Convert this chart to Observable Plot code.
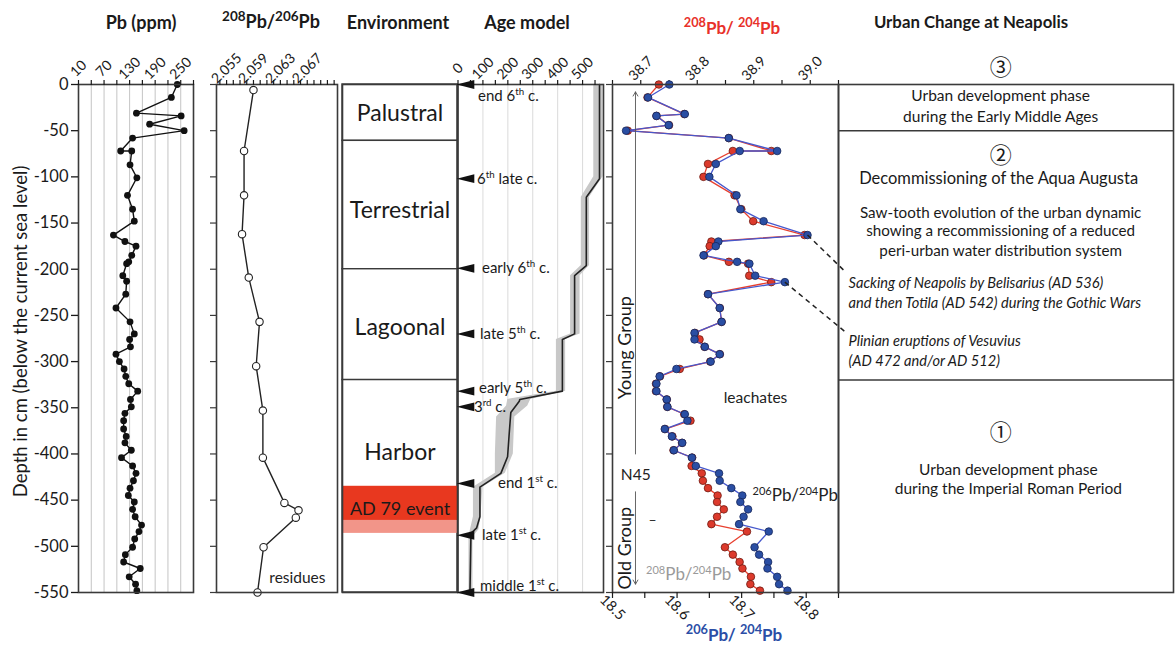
<!DOCTYPE html>
<html><head><meta charset="utf-8">
<script src="https://cdn.jsdelivr.net/npm/d3@7"></script>
<script src="https://cdn.jsdelivr.net/npm/@observablehq/plot@0.6"></script>
<style>
body{margin:0;background:#fff;font-family:Lato,"Open Sans",sans-serif;color:#1a1a1a;}
#wrap{position:relative;width:1175px;height:650px;overflow:hidden;background:#fff;}
.title{position:absolute;font-weight:bold;font-size:16px;line-height:20px;white-space:nowrap;transform:translateX(-50%);}
.title sup{font-size:75%;}
</style></head><body><div id="wrap"></div>
<script>
// ---------- DATA ----------
const depthTicks = [0,-50,-100,-150,-200,-250,-300,-350,-400,-450,-500,-550];
const depthTitle = "Depth in cm (below the current sea level)";

// Pb (ppm)
const pbDepth = [0,-14,-31,-34,-43,-50,-58,-72,-72,-87,-101,-120,-135,-148,-163,-170,-175,-185,-192,-194,-207,-213,-227,-242,-257,-270,-276,-284,-292,-300,-308,-316,-324,-332,-341,-349,-356,-364,-373,-381,-388,-396,-404,-413,-421,-429,-437,-445,-452,-460,-468,-477,-484,-492,-501,-509,-517,-524,-533,-541,-548];
const pbPpm = [242,228,146,251,177,258,137,109,135,131,147,125,137,141,92,119,145,135,128,123,114,123,121,98,131,141,130,132,98,106,117,121,128,149,132,134,119,116,116,122,119,134,111,137,145,139,131,127,141,137,143,158,152,142,137,120,116,155,129,144,147];
const pbTicks = [10,40,70,100,130,160,190,220,250,280];
const pbLabels = [10,70,130,190,250];
const pbGrid = [40,70,100,130,160,190,220,250];

// 208Pb/206Pb residues
const r86Depth = [-6,-72,-120,-162,-209,-257,-305,-353,-404,-453,-461,-469,-501,-550];
const r86Value = [2.0590,2.0576,2.0576,2.0573,2.0583,2.0599,2.0594,2.0604,2.0604,2.0636,2.0657,2.0653,2.0605,2.0596];
const r86Ticks = [2054,2055,2056,2057,2058,2059,2060,2061,2062,2063,2064,2065,2066,2067,2068,2069,2070,2071];
const r86Labels = [2055,2059,2063,2067];

// Environment
const envNames = ["Palustral","Terrestrial","Lagoonal","Harbor"];
const envTop = [0,-61,-200,-320];
const envBottom = [-61,-200,-320,-550];
const envLabelDepth = [-31,-137,-263,-399];
const adEventName = "AD 79 event";
const adEventTop = -435, adEventMid = -472, adEventBottom = -486, adEventLabelDepth = -460;

// Age model
const ageDepth = [0,-102,-122,-196,-207,-270,-276,-332,-341,-343,-355,-380,-403,-421,-436,-468,-480,-486,-550];
const ageYear  = [568,568,515,515,468,468,419,419,248,246,212,205,199,172,88,88,75,52,48];
const bandDepth = [0,-100,-122,-196,-207,-270,-276,-332,-341,-348,-360,-400,-421,-436,-468,-482,-490,-550];
const bandLo    = [545,545,495,495,452,452,395,395,200,195,155,150,150,62,62,50,44,44];
const bandHi    = [582,582,528,528,490,490,432,432,292,280,228,222,190,100,92,84,60,60];
const ageTicks = [0,50,100,150,200,250,300,350,400,450,500,550];
const ageLabels = [0,100,200,300,400,500];
const ageGrid = [100,200,300,400,500];
const markerDepth = [0,-102,-199,-270,-332,-349,-432,-488,-550];
const markerLabel = ["end 6^{th} c.","6^{th} late c.","early 6^{th} c.","late 5^{th} c.","early 5^{th} c.","3^{rd} c.","end 1^{st} c.","late 1^{st} c.","middle 1^{st} c."];
const markerLabelDx = [20,19,24,22,21,16,40,24,22];
const markerLabelDy = [12,0,0,0,-3,0,0,0,-6];

// Isotopes (leachates)
const isoDepth = [0,-14,-32,-34,-44,-50,-58,-72,-72,-86,-100,-120,-135,-148,-163,-170,-175,-185,-192,-194,-207,-214,-227,-242,-257,-269,-276,-284,-292,-300,-308,-316,-324,-332,-341,-349,-357,-364,-373,-381,-388,-396,-404,-413,-421,-429,-437,-445,-452,-460,-468,-476,-484,-501,-509,-517,-524,-533,-541,-548];
const iso208_204 = [38.732,38.712,38.777,38.728,38.750,38.677,38.856,38.931,38.863,38.819,38.811,38.866,38.878,38.899,38.990,38.825,38.822,38.812,38.856,38.890,38.892,38.931,38.819,38.840,38.843,38.796,38.804,38.813,38.840,38.823,38.769,38.734,38.727,38.727,38.746,38.747,38.777,38.788,38.743,38.756,38.773,38.758,38.791,38.790,38.808,38.810,38.819,38.836,38.835,38.847,38.835,38.825,38.888,38.849,38.863,38.875,38.880,38.895,38.894,38.911];
const iso206_204 = [18.588,18.555,18.612,18.568,18.587,18.521,18.680,18.755,18.697,18.660,18.650,18.692,18.698,18.734,18.802,18.664,18.660,18.641,18.693,18.712,18.721,18.767,18.648,18.666,18.669,18.627,18.627,18.643,18.666,18.652,18.599,18.573,18.568,18.568,18.584,18.585,18.612,18.616,18.581,18.592,18.608,18.595,18.623,18.629,18.665,18.666,18.684,18.701,18.698,18.710,18.703,18.696,18.742,18.720,18.727,18.741,18.740,18.755,18.758,18.771];
const top208Ticks = [38.65,38.70,38.75,38.80,38.85,38.90,38.95,39.00,39.05];
const bot206Ticks = [18.50,18.55,18.60,18.65,18.70,18.75,18.80,18.85];

// annotations (isotope panel, blue-axis coords)
const groupArrows = [{x:18.5356,y1:-400,y2:-8},{x:18.5356,y1:-441,y2:-541}];
const groupNames = [{t:"Young Group",x:18.519,d:-285},{t:"Old Group",x:18.519,d:-502}];
const isoNotes = [
  {t:"N45",x:18.536,d:-423,c:"#222",s:15.5},
  {t:"–",x:18.562,d:-472,c:"#222",s:14},
  {t:"leachates",x:18.7215,d:-339,c:"#222",s:15.5},
  {t:"^{206}Pb/^{204}Pb",x:18.783,d:-445,c:"#222",s:17},
  {t:"^{208}Pb/^{204}Pb",x:18.618,d:-531,c:"#9a9a9a",s:17}
];
const connectors = [{x1:18.802,d1:-163,x2:18.861,d2:-203},{x1:18.767,d1:-214,x2:18.859,d2:-267}];

// Urban change panel
const phaseRules = [-50,-320];
const circledNums = [{t:"③",d:18},{t:"②",d:-77},{t:"①",d:-377}];
const plainNotes = [
  {t:"Urban development phase",d:-12,p:0.484,s:15.5},
  {t:"during the Early Middle Ages",d:-35,p:0.484,s:15.5},
  {t:"Decommissioning of the Aqua Augusta",d:-102,p:0.478,s:16.5},
  {t:"Saw-tooth evolution of the urban dynamic",d:-139,p:0.484,s:15.2},
  {t:"showing a recommissioning of a reduced",d:-159,p:0.484,s:15.2},
  {t:"peri-urban water distribution system",d:-180,p:0.484,s:15.2},
  {t:"Urban development phase",d:-417,p:0.507,s:15.5},
  {t:"during the Imperial Roman Period",d:-438,p:0.507,s:15.5}
];
const italicNotes = [
  {t:"Sacking of Neapolis by Belisarius (AD 536)",d:-215},
  {t:"and then Totila (AD 542) during the Gothic Wars",d:-237},
  {t:"Plinian eruptions of Vesuvius",d:-278},
  {t:"(AD 472 and/or AD 512)",d:-300}
];

// ---------- RENDER ----------
const W = 1175, H = 650, TOP = 84, BOT = 592;
const FONT = "Lato, 'Open Sans', sans-serif";
const wrap = document.getElementById("wrap");

function supify(root){
  root.querySelectorAll("text").forEach(t=>{
    const s = t.textContent;
    if (!s.includes("^{") || t.querySelector("tspan")) return;
    t.textContent = "";
    s.split(/(\^\{[^}]*\})/).forEach(p=>{
      if (!p) return;
      const ts = document.createElementNS("http://www.w3.org/2000/svg","tspan");
      if (p.startsWith("^{")) { ts.textContent = p.slice(2,-1); ts.setAttribute("baseline-shift","super"); ts.setAttribute("font-size","65%"); }
      else ts.textContent = p;
      t.appendChild(ts);
    });
  });
}
function mk(left, right, opts){
  const svg = Plot.plot({
    width: W, height: H,
    marginLeft: left, marginRight: W - right, marginTop: TOP, marginBottom: H - BOT,
    style: {background:"transparent", fontFamily: FONT, fontSize:"13px", color:"#1a1a1a", position:"absolute", left:"0px", top:"0px", overflow:"visible"},
    y: {domain:[-550,0], axis:null},
    ...opts
  });
  supify(svg);
  wrap.appendChild(svg);
  return svg;
}
const frame = () => Plot.frame({stroke:"#3a3a3a", strokeWidth:1.6});
const leftTicks = () => Plot.axisY({ticks: depthTicks, tickSize:6, tickFormat:()=>"", label:null, stroke:"#3a3a3a", strokeWidth:1.2});
const topAxis = (ticks, fmt) => Plot.axisX({anchor:"top", ticks, tickSize:5, tickPadding:11, label:null, tickRotate:-45,
  textAnchor:"middle", lineAnchor:"middle", fontSize:14, tickFormat:fmt, strokeWidth:1.2});

// Panel 1: Pb
const pbData = pbDepth.map((d,i)=>({depth:d, v:pbPpm[i]}));
mk(78, 193, {
  x: {domain:[10,280], axis:null},
  marks: [
    Plot.gridX(pbGrid, {stroke:"#bdbdbd", strokeOpacity:1, strokeWidth:0.9}),
    Plot.line(pbData, {x:"v", y:"depth", stroke:"#111", strokeWidth:1.4}),
    Plot.dot(pbData, {x:"v", y:"depth", r:3.4, fill:"#111"}),
    frame(),
    Plot.axisY({ticks: depthTicks, tickSize:7, tickPadding:3, fontSize:16.5, label:null, tickFormat:d=>String(d), strokeWidth:1.3}),
    topAxis(pbTicks, d=>pbLabels.includes(d)?String(d):""),
    Plot.text([depthTitle], {frameAnchor:"left", textAnchor:"middle", dx:-57, dy:-7, rotate:-90, fontSize:18.5, fill:"#1a1a1a"})
  ]
});

// Panel 2: 208Pb/206Pb
const r86Data = r86Depth.map((d,i)=>({depth:d, v:r86Value[i]}));
mk(216, 337, {
  x: {domain:[2.0535,2.0715], axis:null},
  marks: [
    Plot.line(r86Data, {x:"v", y:"depth", stroke:"#222", strokeWidth:1.4}),
    Plot.dot(r86Data, {x:"v", y:"depth", r:3.7, fill:"white", stroke:"#222", strokeWidth:1.1}),
    frame(),
    leftTicks(),
    topAxis(r86Ticks.map(d=>d/1000), d=>r86Labels.includes(Math.round(d*1000))?d.toFixed(3):""),
    Plot.text(["residues"], {frameAnchor:"bottom-right", dx:-12, dy:-10, fontSize:15.5, fill:"#222"})
  ]
});

// Panel 3: Environment
const envData = envNames.map((n,i)=>({name:n, top:envTop[i], bottom:envBottom[i], ld:envLabelDepth[i]}));
const adData = [{y1:adEventTop, y2:adEventMid, c:"#e8381f"},{y1:adEventMid, y2:adEventBottom, c:"#f29589"}];
mk(342, 457, {
  x: {domain:[0,1], axis:null},
  marks: [
    Plot.rect(envData, {x1:0, x2:1, y1:"bottom", y2:"top", fill:"white", stroke:"#3a3a3a", strokeWidth:1.4}),
    Plot.rect(adData, {x1:0, x2:1, y1:"y2", y2:"y1", fill:"c"}),
    Plot.text(envData, {x:0.5, y:"ld", text:"name", fontSize:23, fill:"#1a1a1a"}),
    Plot.text([adEventName], {x:0.5, y:adEventLabelDepth, fontSize:18, fill:"#1a1a1a"}),
    frame()
  ]
});

// Panel 4: Age model
const ageData = ageDepth.map((d,i)=>({depth:d, age:ageYear[i]}));
const bandData = bandDepth.map((d,i)=>({depth:d, lo:bandLo[i], hi:bandHi[i]}));
const markers = markerDepth.map((d,i)=>({depth:d, label:markerLabel[i], dx:markerLabelDx[i], dy:markerLabelDy[i]}));
const leftTri = {draw(ctx, size){ const r = Math.sqrt(size/Math.PI); ctx.moveTo(-r*1.1,0); ctx.lineTo(r*1.1,-r*0.55); ctx.lineTo(r*1.1,r*0.55); ctx.closePath(); }};
mk(457.5, 603, {
  x: {domain:[0,584], axis:null},
  marks: [
    Plot.gridX(ageGrid, {stroke:"#d6d6d6", strokeOpacity:1, strokeWidth:0.9}),
    Plot.areaX(bandData, {y:"depth", x1:"lo", x2:"hi", fill:"#c8c8c8"}),
    Plot.line(ageData, {x:"age", y:"depth", stroke:"#222", strokeWidth:1.6}),
    frame(),
    topAxis(ageTicks, d=>ageLabels.includes(d)?String(d):""),
    Plot.dot(markers, {x:0, y:"depth", dx:7.5, r:8, symbol:leftTri, fill:"#111"}),
    ...markers.map(m=>Plot.text([m.label], {x:0, y:m.depth, dx:m.dx, dy:m.dy, textAnchor:"start", fontSize:15, fill:"#1a1a1a"}))
  ]
});

// Panel 5a: 208Pb/204Pb (red, top axis)
const iso = isoDepth.map((d,i)=>({depth:d, r:iso208_204[i], b:iso206_204[i]}));
mk(612, 838, {
  x: {domain:[38.65,39.05], axis:null},
  marks: [
    Plot.line(iso, {x:"r", y:"depth", stroke:"#e8402f", strokeWidth:1.3}),
    Plot.dot(iso, {x:"r", y:"depth", r:3.8, fill:"#dc3a2c", stroke:"#6e1a12", strokeWidth:0.8}),
    topAxis(top208Ticks, d=>Math.round(d*100)%10===0?d.toFixed(1):"")
  ]
});
// Panel 5b: 206Pb/204Pb (blue, bottom axis)
mk(612, 838, {
  x: {domain:[18.5,18.85], axis:null},
  marks: [
    Plot.line(iso, {x:"b", y:"depth", stroke:"#4658cc", strokeWidth:1.3}),
    Plot.dot(iso, {x:"b", y:"depth", r:3.8, fill:"#2a4ea3", stroke:"#16275a", strokeWidth:0.8}),
    frame(),
    leftTicks(),
    Plot.axisX({anchor:"bottom", ticks: bot206Ticks, tickSize:6, tickPadding:9, label:null, tickRotate:45,
      textAnchor:"middle", lineAnchor:"middle", fontSize:14.5,
      tickFormat:d=>Math.round(d*100)%10===0?d.toFixed(1):"", strokeWidth:1.2}),
    Plot.arrow(groupArrows, {x1:"x", x2:"x", y1:"y1", y2:"y2", stroke:"#555", strokeWidth:0.9, headLength:8}),
    Plot.text(groupNames, {x:"x", y:"d", text:"t", rotate:-90, fontSize:18, fill:"#1a1a1a"}),
    ...isoNotes.map(n=>Plot.text([n.t], {x:n.x, y:n.d, fontSize:n.s, fill:n.c})),
    Plot.link(connectors, {x1:"x1", y1:"d1", x2:"x2", y2:"d2", stroke:"#222", strokeWidth:1.5, strokeDasharray:"5,4"})
  ]
});

// Panel 6: Urban change
mk(838, 1173, {
  x: {domain:[0,1], axis:null},
  marks: [
    Plot.ruleY(phaseRules, {stroke:"#3a3a3a", strokeWidth:1.6}),
    frame(),
    Plot.text(circledNums, {x:0.484, y:"d", text:"t", fontSize:22, fontFamily:"'Noto Sans CJK JP', 'DejaVu Sans', sans-serif", fill:"#1a1a1a"}),
    Plot.text(plainNotes, {x:"p", y:"d", text:"t", fontSize:"s", fill:"#1a1a1a"}),
    Plot.text(italicNotes, {x:0.03, y:"d", text:"t", textAnchor:"start", fontStyle:"italic", fontSize:14.6, fill:"#1a1a1a"})
  ]
});

// Titles (HTML)
const titles = [
  {h:"Pb (ppm)", x:141, y:12, c:"#1a1a1a", s:18},
  {h:"<sup>208</sup>Pb/<sup>206</sup>Pb", x:271, y:6, c:"#1a1a1a", s:18},
  {h:"Environment", x:398, y:12, c:"#1a1a1a", s:18},
  {h:"Age model", x:527, y:12, c:"#1a1a1a", s:18},
  {h:"<sup>208</sup>Pb/ <sup>204</sup>Pb", x:732, y:12, c:"#e8312a", s:17},
  {h:"Urban Change at Neapolis", x:971, y:12, c:"#1a1a1a", s:16.8},
  {h:"<sup>206</sup>Pb/ <sup>204</sup>Pb", x:734, y:619, c:"#2b4ea6", s:17}
];
titles.forEach(t=>{
  const d = document.createElement("div");
  d.className = "title"; d.innerHTML = t.h;
  d.style.left = t.x+"px"; d.style.top = t.y+"px"; d.style.color = t.c; d.style.fontSize = t.s+"px";
  wrap.appendChild(d);
});
</script></body></html>
